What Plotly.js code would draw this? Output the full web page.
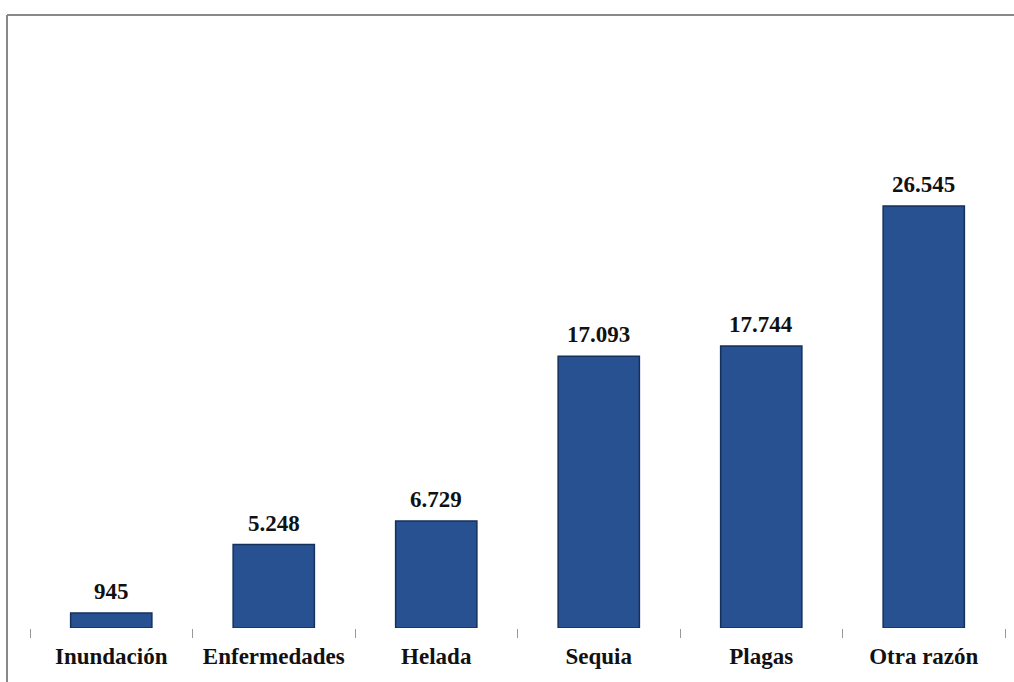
<!DOCTYPE html>
<html>
<head>
<meta charset="utf-8">
<script src="https://cdn.plot.ly/plotly-3.0.1.min.js"></script>
<style>html,body{margin:0;padding:0;background:#fff;}#chart{width:1014px;height:682px;}</style>
</head>
<body>
<div id="chart"></div>
<script>
const categories = ["Inundación", "Enfermedades", "Helada", "Sequia", "Plagas", "Otra razón"];
const values = [945, 5248, 6729, 17093, 17744, 26545];

const fontSerif = 'Liberation Serif, Times New Roman, serif';

const trace = {
  type: 'bar',
  x: categories,
  y: values,
  marker: { color: '#285192', line: { color: '#14305C', width: 1.5 } },
  cliponaxis: false,
  hoverinfo: 'none'
};

const annotations = categories.map((c, i) => ({
  x: c, y: values[i], xref: 'x', yref: 'y',
  text: values[i].toLocaleString('de-DE'),
  showarrow: false, yanchor: 'bottom', yshift: 7,
  font: { family: fontSerif, size: 23, color: '#111', weight: 'bold' }
}));

const layout = {
  width: 1014, height: 682,
  margin: { l: 30, r: 9, t: 183, b: 54 },
  paper_bgcolor: '#fff', plot_bgcolor: '#fff',
  separators: ',.',
  bargap: 0.5,
  showlegend: false,
  annotations: annotations,
  xaxis: {
    type: 'category',
    range: [-0.5, 5.5],
    tickson: 'boundaries',
    ticks: 'outside', ticklen: 9, tickcolor: '#999', tickwidth: 1,
    ticklabelstandoff: 12,
    showline: false, showgrid: false, zeroline: false,
    tickfont: { family: fontSerif, size: 23, color: '#111', weight: 'bold' }
  },
  yaxis: {
    range: [0, 28000],
    visible: false,
    showgrid: false, zeroline: false
  },
  shapes: [
    { type: 'line', xref: 'paper', yref: 'paper', x0: -0.0236, x1: 1.02, y0: 1.3775, y1: 1.3775, line: { color: '#888', width: 2 } },
    { type: 'line', xref: 'paper', yref: 'paper', x0: -0.0236, x1: -0.0236, y0: 1.3775, y1: -0.2, line: { color: '#888', width: 2 } }
  ]
};

Plotly.newPlot('chart', [trace], layout, { displayModeBar: false, staticPlot: true });
</script>
</body>
</html>
